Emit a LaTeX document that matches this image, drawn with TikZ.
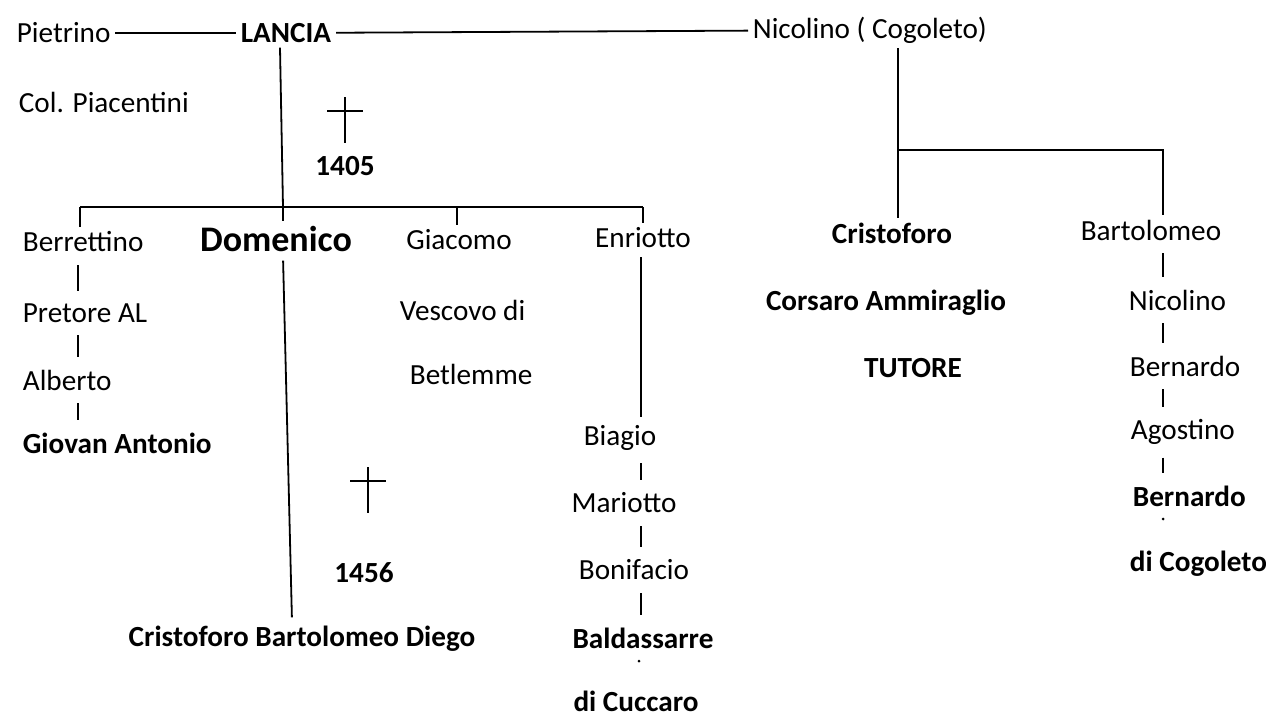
\documentclass[tikz,border=0pt]{standalone}
\usepackage{fontspec}
\setmainfont{Carlito}
\usetikzlibrary{positioning}

\newcommand{\deathcross}[2]{%
  \draw[line width=1.3pt] (#1,#2) -- ++(0,46);
  \draw[line width=1.3pt] (#1-18,#2+14) -- ++(36,0);}

\begin{document}
\begin{tikzpicture}[x=0.5pt, y=-0.5pt, line width=0.9pt,
    person/.style={inner sep=2pt, font=\fontsize{14.6}{17}\selectfont},
    bperson/.style={person, font=\fontsize{14.6}{17}\selectfont\bfseries},
    chain/.style={shorten <=4pt, shorten >=4pt},
    dot/.style={fill, circle, inner sep=0pt, minimum size=1.5pt}]
  \useasboundingbox (0,0) rectangle (1266,718);
  % top line
  \node[person, anchor=west] (pietrino) at (12,33) {Pietrino};
  \node[bperson] (lancia) at (286,33) {LANCIA};
  \node[person, anchor=west] (nicolinoC) at (748,30) {Nicolino ( Cogoleto)};
  \node[person, anchor=west] (piacentini) at (14,102) {Col. Piacentini};
  \draw (pietrino) -- (lancia);
  \draw (lancia) -- (nicolinoC);
  \deathcross{345}{97}
  \node[bperson] (y1405) at (345,166) {1405};
  % children of Lancia
  \coordinate (t1) at (80,207);
  \coordinate (t2) at (283,207);
  \coordinate (t3) at (457,207);
  \coordinate (t4) at (643,207);
  \node[person, anchor=west] (berrettino) at (18,242) {Berrettino};
  \node[bperson, font=\fontsize{18}{21}\selectfont\bfseries] (domenico) at (276,239) {Domenico};
  \node[person] (giacomo) at (459,240) {Giacomo};
  \node[person] (enriotto) at (643,238) {Enriotto};
  \draw ([xshift=-3pt]lancia.south) -- (t2 |- t1);
  \draw (t1) -- (t4);
  \draw (t1) -- (t1 |- berrettino.north);
  \draw (t2) -- (t2 |- domenico.north);
  \draw (t3) -- (t3 |- giacomo.north);
  \draw (t4) -- (t4 |- enriotto.north);
  % Berrettino line
  \coordinate (bx) at (78,0);
  \node[person, anchor=west] (pretore) at (18,313) {Pretore AL};
  \node[person, anchor=west] (alberto) at (18,380) {Alberto};
  \node[bperson, anchor=west] (giovan) at (18,443) {Giovan Antonio};
  \draw[chain] (berrettino.south -| bx) -- (pretore.north -| bx);
  \draw[chain] (pretore.south -| bx) -- (alberto.north -| bx);
  \draw[chain] (alberto.south -| bx) -- (giovan.north -| bx);
  % Domenico line
  \node[bperson] (sons) at (302,639) {Cristoforo Bartolomeo Diego};
  \draw[shorten <=2pt, shorten >=2pt] (domenico.south -| t2) -- ([xshift=-5pt]sons.north);
  \deathcross{368}{467}
  \node[bperson] (y1456) at (364,573) {1456};
  % Giacomo
  \node[person, anchor=west] (vescovo) at (395,310) {Vescovo di};
  \node[person, anchor=west] (betlemme) at (405,374) {Betlemme};
  % Enriotto line
  \coordinate (ex) at (641,0);
  \node[person] (biagio) at (620,438) {Biagio};
  \node[person] (mariotto) at (624,503) {Mariotto};
  \node[person] (bonifacio) at (634,570) {Bonifacio};
  \node[bperson] (baldassarre) at (643,638) {Baldassarre};
  \node[bperson] (cuccaro) at (636,701) {di Cuccaro};
  \draw[shorten <=2pt, shorten >=2pt] (enriotto.south -| ex) -- (biagio.north -| ex);
  \draw[chain] (biagio.south -| ex) -- (mariotto.north -| ex);
  \draw[chain] (mariotto.south -| ex) -- (bonifacio.north -| ex);
  \draw[chain] (bonifacio.south -| ex) -- (baldassarre.north -| ex);
  \node[dot] (d1) at (639,661) {};
  % Nicolino (Cogoleto) line
  \coordinate (nv) at (898,150);
  \coordinate (bv) at (1163,150);
  \node[bperson] (cristoforo) at (892,233) {Cristoforo};
  \node[bperson] (corsaro) at (886,303) {Corsaro Ammiraglio};
  \node[bperson] (tutore) at (913,368) {TUTORE};
  \node[person] (bartolomeo) at (1151,230) {Bartolomeo};
  \draw (nicolinoC.south -| nv) -- (nv |- cristoforo.north);
  \draw (nv) -- (bv) -- (bv |- bartolomeo.north);
  \node[person, anchor=west] (nicolino) at (1124,300) {Nicolino};
  \node[person, anchor=west] (bernardo) at (1125,366) {Bernardo};
  \node[person, anchor=west] (agostino) at (1126,432) {Agostino};
  \node[bperson, anchor=west] (bernardoB) at (1128,496) {Bernardo};
  \node[bperson, anchor=west] (cogoleto) at (1125,564) {di Cogoleto};
  \draw[chain] (bartolomeo.south -| bv) -- (nicolino.north -| bv);
  \draw[chain] (nicolino.south -| bv) -- (bernardo.north -| bv);
  \draw[chain] (bernardo.south -| bv) -- (agostino.north -| bv);
  \draw[chain] (agostino.south -| bv) -- (bernardoB.north -| bv);
  \node[dot] (d2) at (1163,519) {};
\end{tikzpicture}
\end{document}
